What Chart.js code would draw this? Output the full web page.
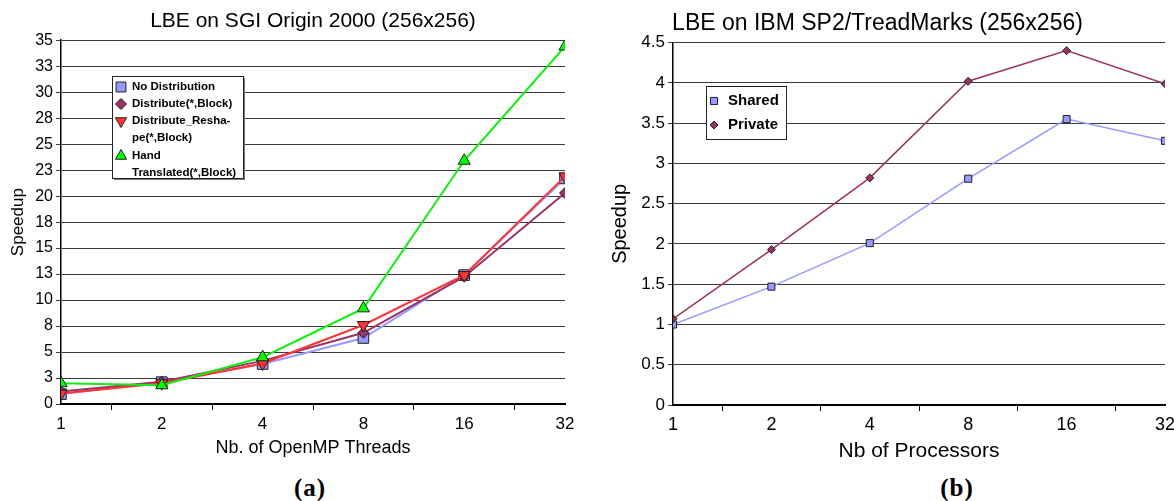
<!DOCTYPE html>
<html>
<head>
<meta charset="utf-8">
<script src="https://cdn.jsdelivr.net/npm/chart.js@4/dist/chart.umd.min.js"></script>
<style>
  body { margin: 0; width: 1174px; height: 501px; overflow: hidden; background: #fff; position: relative; }
  #left { position: absolute; left: 0; top: 0; }
  #right { position: absolute; left: 590px; top: 0; }
  .cap { position: absolute; top: 473px; width: 100px; text-align: center; line-height: 30px;
         font-family: 'Liberation Serif', serif; font-weight: bold; font-size: 25px; letter-spacing: 1px; }
</style>
</head>
<body>
<canvas id="left" width="590" height="470"></canvas>
<canvas id="right" width="600" height="470"></canvas>
<div class="cap" style="left:260px">(a)</div>
<div class="cap" style="left:907px">(b)</div>
<script>
// données
const threads = ['1', '2', '4', '8', '16', '32'];
const noDistribution = [0.95, 2.1, 3.85, 6.35, 12.4, 21.7];
const distributeBlock = [1.2, 2.15, 4.15, 6.85, 12.25, 20.3];
const distributeReshape = [1.0, 2.0, 3.9, 7.6, 12.4, 21.9];
const handTranslated = [2.0, 1.8, 4.5, 9.2, 23.4, 34.4];
const yLabelsA = ['0', '3', '5', '8', '10', '13', '15', '18', '20', '23', '25', '28', '30', '33', '35'];
const legendA = [['No Distribution'], ['Distribute(*,Block)'], ['Distribute_Resha-', 'pe(*,Block)'], ['Hand', 'Translated(*,Block)']];

const procs = ['1', '2', '4', '8', '16', '32'];
const shared = [1.0, 1.47, 2.01, 2.81, 3.55, 3.28];
const privateData = [1.07, 1.93, 2.82, 4.02, 4.40, 3.99];
const yLabelsB = ['0', '0.5', '1', '1.5', '2', '2.5', '3', '3.5', '4', '4.5'];
const legendB = [['Shared'], ['Private']];

Chart.defaults.font.family = "'Liberation Sans', Arial, sans-serif";
Chart.defaults.color = '#000';

function pts(vals) {
	return vals.map((v, i) => ({ x: i, y: v }));
}

// legende encadree dans la zone du graphique
const boxLegend = {
	id: 'boxLegend',
	afterDraw(chart, args, o) {
		const ctx = chart.ctx;
		ctx.save();
		if (o.shadow) {
			ctx.fillStyle = '#777';
			ctx.fillRect(o.x + 2, o.y + 2, o.w, o.h);
		}
		ctx.fillStyle = '#fff';
		ctx.fillRect(o.x, o.y, o.w, o.h);
		ctx.strokeStyle = '#222';
		ctx.lineWidth = 1;
		ctx.strokeRect(o.x + 0.5, o.y + 0.5, o.w, o.h);
		ctx.font = o.font;
		ctx.textBaseline = 'middle';
		o.rows.forEach((y, i) => {
			const ds = chart.data.datasets[i];
			ctx.fillStyle = ds.pointBackgroundColor;
			ctx.strokeStyle = '#222';
			ctx.lineWidth = 1;
			if (Chart.helpers && Chart.helpers.drawPoint) {
				Chart.helpers.drawPoint(ctx, { pointStyle: ds.pointStyle, radius: o.markR[i], rotation: ds.pointRotation || 0, borderWidth: 1 }, o.markX, y);
			} else {
				ctx.fillRect(o.markX - 4, y - 4, 8, 8);
			}
			ctx.fillStyle = '#000';
			o.labels[i].forEach((t, k) => ctx.fillText(t, o.textX, y + k * o.lh));
		});
		ctx.restore();
	}
};

function xAxis(cats, title, tickSize, titleSize, height, tickPad, titlePad) {
	return {
		type: 'linear', min: 0, max: cats.length - 1,
		afterFit: s => { s.height = height; },
		border: { color: '#000', width: 2 },
		grid: {
			drawOnChartArea: false, tickLength: 6, lineWidth: 1,
			color: c => (c.tick && c.tick.value % 1 !== 0) ? '#000' : 'rgba(0,0,0,0)'
		},
		ticks: {
			stepSize: 0.5, autoSkip: false, maxRotation: 0, padding: tickPad,
			font: { size: tickSize },
			callback: v => (v % 1 === 0 ? cats[v] : '')
		},
		title: { display: true, text: title, font: { size: titleSize }, padding: { top: 0, bottom: titlePad } }
	};
}

function yAxis(max, step, labels, tickSize, titleSize, width, titlePad) {
	return {
		min: 0, max: max,
		afterFit: s => { s.width = width; },
		border: { color: '#000', width: 1.5 },
		grid: { color: '#3a3a3a', lineWidth: 1, tickLength: 5 },
		ticks: { stepSize: step, autoSkip: false, padding: 3, font: { size: tickSize }, callback: (v, i) => labels[i] },
		title: { display: true, text: 'Speedup', font: { size: titleSize }, padding: { top: titlePad, bottom: 0 } }
	};
}

new Chart(document.getElementById('left'), {
	type: 'line',
	data: {
		datasets: [{
			label: legendA[0].join(''), data: pts(noDistribution), order: 3,
			borderColor: '#9999FF', pointBackgroundColor: '#9999FF', pointStyle: 'rect', pointRadius: 7.5
		}, {
			label: legendA[1].join(''), data: pts(distributeBlock), order: 2,
			borderColor: '#993366', pointBackgroundColor: '#993366', pointStyle: 'rectRot', pointRadius: 5.5
		}, {
			label: legendA[2].join(''), data: pts(distributeReshape), order: 1,
			borderColor: '#FF3333', pointBackgroundColor: '#FF3333', pointStyle: 'triangle', pointRotation: 180, pointRadius: 7
		}, {
			label: legendA[3].join(' '), data: pts(handTranslated), order: 0,
			borderColor: '#11EE11', pointBackgroundColor: '#00FF00', pointStyle: 'triangle', pointRadius: 7
		}]
	},
	options: {
		responsive: false, animation: false,
		datasets: { line: { borderWidth: 2, tension: 0, pointBorderColor: '#222', pointBorderWidth: 1 } },
		layout: { padding: { top: 0, right: 25, left: 0, bottom: 0 } },
		scales: {
			x: xAxis(threads, 'Nb. of OpenMP Threads', 17, 18, 66, 4, 11),
			y: yAxis(35, 2.5, yLabelsA, 16, 17, 61, 8)
		},
		plugins: {
			legend: { display: false },
			tooltip: { enabled: false },
			title: { display: true, fullSize: false, text: 'LBE on SGI Origin 2000 (256x256)', font: { size: 21, weight: 'normal' }, padding: { top: 9, bottom: 6 } },
			boxLegend: {
				x: 112, y: 76, w: 131, h: 102, shadow: true,
				font: "bold 11.5px 'Liberation Sans', Arial, sans-serif",
				rows: [87, 104, 121, 156], lh: 17, markX: 121, textX: 132,
				markR: [7, 5.5, 6.5, 6.5], labels: legendA
			}
		}
	},
	plugins: [boxLegend]
});

new Chart(document.getElementById('right'), {
	type: 'line',
	data: {
		datasets: [{
			label: legendB[0][0], data: pts(shared), order: 1,
			borderColor: '#9999FF', pointBackgroundColor: '#9999FF', pointStyle: 'rect', pointRadius: 5
		}, {
			label: legendB[1][0], data: pts(privateData), order: 0,
			borderColor: '#993366', pointBackgroundColor: '#993366', pointStyle: 'rectRot', pointRadius: 4
		}]
	},
	options: {
		responsive: false, animation: false,
		datasets: { line: { borderWidth: 1.5, tension: 0, pointBorderColor: '#222', pointBorderWidth: 1 } },
		layout: { padding: { top: 0, right: 25, left: 0, bottom: 0 } },
		scales: {
			x: xAxis(procs, 'Nb of Processors', 18, 21, 65, 3, 6),
			y: yAxis(4.5, 0.5, yLabelsB, 17, 20, 83, 18)
		},
		plugins: {
			legend: { display: false },
			tooltip: { enabled: false },
			title: { display: true, text: 'LBE on IBM SP2/TreadMarks (256x256)', font: { size: 23, weight: 'normal' }, padding: { top: 10, bottom: 5 } },
			boxLegend: {
				x: 116, y: 86, w: 80, h: 53, shadow: false,
				font: "bold 15px 'Liberation Sans', Arial, sans-serif",
				rows: [101, 125], lh: 17, markX: 124, textX: 138,
				markR: [5, 4], labels: legendB
			}
		}
	},
	plugins: [boxLegend]
});
</script>
</body>
</html>
